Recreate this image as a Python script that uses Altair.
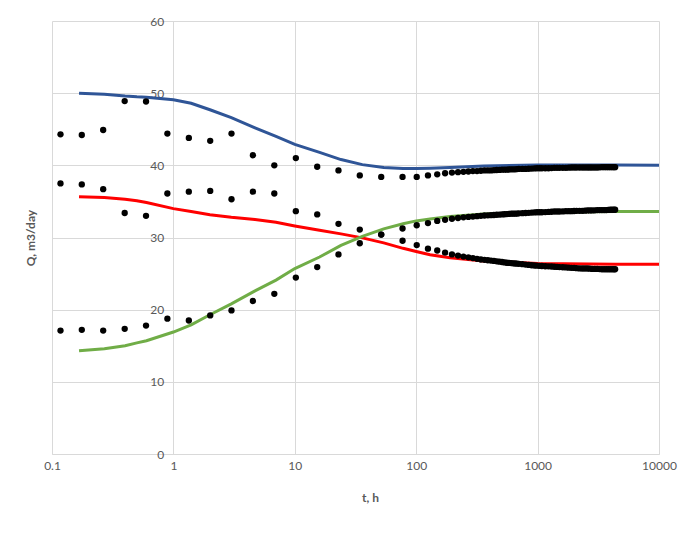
import altair as alt
import pandas as pd

# ---- measured points (dots) ----
t_pts = [0.1175, 0.176, 0.264, 0.397, 0.595, 0.892, 1.34, 2.01, 3.01, 4.52, 6.78, 10.2,
         15.3, 22.9, 34.3, 51.5, 77.2, 101, 125, 149, 173, 197, 221, 245, 269, 293, 317,
         341,
         365, 389, 413, 437, 461, 485, 509, 533, 557, 581, 605, 629, 653, 677, 701,
         749, 797, 845, 893, 941, 989, 1037, 1085,
         1157, 1229, 1301, 1373, 1445, 1517,
         1613, 1709, 1805, 1901, 1997, 2093,
         2213, 2333, 2453, 2573, 2693, 2813,
         2957, 3101, 3245, 3389, 3533, 3677, 3821, 3965, 4109, 4253,
         4350]
q_upper = [44.3, 44.2, 44.9, 48.9, 48.85, 44.4, 43.8, 43.4, 44.4, 41.4, 40.0, 41.0,
           39.8, 39.3, 38.6, 38.4, 38.4, 38.4, 38.6, 38.75, 38.9, 39.0, 39.05, 39.1, 39.15,
           39.2, 39.2, 39.25,
           39.3, 39.3, 39.3, 39.33, 39.35, 39.37, 39.4, 39.4, 39.4, 39.42, 39.45, 39.45, 39.45, 39.48, 39.5,
           39.5, 39.5, 39.53, 39.55, 39.57, 39.6, 39.6, 39.6,
           39.6, 39.6, 39.62, 39.65, 39.65, 39.65,
           39.65, 39.65, 39.68, 39.7, 39.7, 39.7,
           39.7, 39.7, 39.7, 39.7, 39.7, 39.7,
           39.7, 39.7, 39.72, 39.75, 39.75, 39.75, 39.75, 39.75, 39.75, 39.75,
           39.75]
q_middle = [37.5, 37.35, 36.7, 33.4, 33.0, 36.1, 36.35, 36.45, 35.3, 36.35, 36.1, 33.65,
            33.2, 31.9, 31.1, 30.4, 29.55, 28.95, 28.45, 28.2, 27.9, 27.65, 27.5, 27.35,
            27.25, 27.15, 27.05, 26.95,
            26.9, 26.85, 26.8, 26.75, 26.7, 26.65, 26.6, 26.55, 26.5, 26.48, 26.45, 26.42, 26.4, 26.38, 26.35,
            26.3, 26.25, 26.2, 26.15, 26.12, 26.1, 26.07, 26.05,
            26.02, 26.0, 25.98, 25.95, 25.92, 25.9,
            25.88, 25.85, 25.82, 25.8, 25.78, 25.75,
            25.72, 25.7, 25.7, 25.7, 25.68, 25.65,
            25.65, 25.65, 25.62, 25.6, 25.6, 25.6, 25.6, 25.6, 25.6, 25.6,
            25.6]
q_lower = [17.1, 17.2, 17.1, 17.35, 17.8, 18.75, 18.5, 19.2, 19.9, 21.2, 22.2, 24.45,
           25.9, 27.65, 29.2, 30.4, 31.25, 31.7, 32.0, 32.3, 32.45, 32.6, 32.7, 32.8,
           32.85, 32.9, 32.95, 33.0,
           33.05, 33.07, 33.1, 33.12, 33.15, 33.17, 33.2, 33.22, 33.25, 33.27, 33.3, 33.3, 33.3, 33.32, 33.35,
           33.37, 33.4, 33.42, 33.45, 33.47, 33.5, 33.5, 33.5,
           33.52, 33.55, 33.57, 33.6, 33.6, 33.6,
           33.62, 33.65, 33.65, 33.65, 33.67, 33.7,
           33.7, 33.7, 33.72, 33.75, 33.75, 33.75,
           33.77, 33.8, 33.8, 33.8, 33.8, 33.8, 33.82, 33.85, 33.85, 33.85,
           33.85]

# ---- model curves (lines) ----
t_line = [0.167, 0.27, 0.4, 0.5, 0.6, 1, 1.4, 2, 3, 4.7, 7, 10, 16, 24, 36, 54, 78, 100,
          130, 190, 360, 1000, 4400, 10000]
q_blue = [50.0, 49.85, 49.6, 49.5, 49.45, 49.1, 48.6, 47.7, 46.6, 45.2, 44.0, 42.9, 41.8,
          40.8, 40.1, 39.7, 39.55, 39.55, 39.6, 39.7, 39.9, 40.05, 40.05, 40.0]
q_red = [35.65, 35.55, 35.3, 35.1, 34.85, 34.0, 33.6, 33.15, 32.8, 32.5, 32.1, 31.6, 31.0,
         30.5, 29.95, 29.25, 28.5, 28.05, 27.6, 27.2, 26.75, 26.4, 26.3, 26.3]
q_green = [14.3, 14.6, 15.0, 15.4, 15.7, 16.9, 17.9, 19.3, 20.8, 22.6, 24.1, 25.7, 27.3,
           28.9, 30.15, 31.2, 31.9, 32.3, 32.55, 32.9, 33.25, 33.5, 33.6, 33.6]

line_names = ["blue", "red", "green"]
line_colors = ["#2F5597", "#FF0000", "#70AD47"]
x_ticks = [0.1, 1, 10, 100, 1000, 10000]
y_ticks = [0, 10, 20, 30, 40, 50, 60]

n = len(t_pts)
dots = pd.DataFrame({
    "t": t_pts * 3,
    "Q": q_upper + q_middle + q_lower,
    "s": ["upper"] * n + ["middle"] * n + ["lower"] * n,
})
m = len(t_line)
lines = pd.DataFrame({
    "t": t_line * 3,
    "Q": q_blue + q_red + q_green,
    "s": [line_names[0]] * m + [line_names[1]] * m + [line_names[2]] * m,
})

FONT = "Lato"
GREY = "#595959"
GRID = "#D9D9D9"

x_enc = alt.X("t:Q", scale=alt.Scale(type="log", domain=[0.1, 10000], nice=False),
              axis=alt.Axis(values=x_ticks, format="~g", grid=True, gridColor=GRID,
                            domain=True, domainColor=GRID, ticks=False, labelPadding=6,
                            labelFlush=False, labelFont=FONT, labelFontSize=12,
                            labelColor=GREY, title="t, h", titleFont=FONT,
                            titleFontSize=12, titleFontWeight="bold", titleColor=GREY,
                            titleX=318, titleY=43, titleBaseline="middle"))
y_enc = alt.Y("Q:Q", scale=alt.Scale(domain=[0, 60], nice=False),
              axis=alt.Axis(values=y_ticks, grid=True, gridColor=GRID, domain=False,
                            ticks=False, offset=-120.6, labelPadding=9, labelFont=FONT,
                            labelFontSize=12, labelColor=GREY, title="Q, m3/day",
                            titleFont=FONT, titleFontSize=12, titleFontWeight="bold",
                            titleColor=GREY, titleX=-142, titleY=216.5,
                            titleBaseline="middle", titleAngle=270))

line_layer = alt.Chart(lines).mark_line(strokeWidth=3).encode(
    x=x_enc, y=y_enc,
    color=alt.Color("s:N", scale=alt.Scale(domain=line_names, range=line_colors), legend=None),
    detail="s:N",
)
dot_layer = alt.Chart(dots).mark_circle(size=40, color="black", opacity=1).encode(
    x="t:Q", y="Q:Q", detail="s:N"
)

chart = alt.layer(line_layer, dot_layer).properties(
    width=607, height=433,
    autosize=alt.AutoSizeParams(type="none"),
    padding={"left": 44, "top": 13, "right": 33, "bottom": 73},
    background="white",
).configure_view(stroke=None)

chart.save("out.html", embed_options={"renderer": "svg", "actions": False})
